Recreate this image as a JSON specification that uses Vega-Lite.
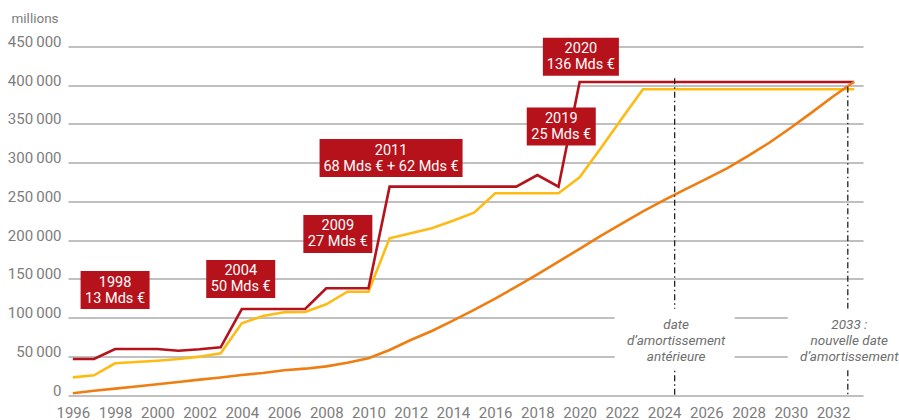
{
  "$schema": "https://vega.github.io/schema/vega-lite/v6.json",
  "width": 795,
  "height": 348.5,
  "autosize": {"type": "none"},
  "padding": {"left": 68, "top": 46.5, "right": 36, "bottom": 25},
  "background": "white",
  "config": {
    "view": {"stroke": null},
    "font": "Roboto"
  },
  "datasets": {
    "series": [
      {"year": 1996, "value": 46500, "s": "reprise"},
      {"year": 1997, "value": 46500, "s": "reprise"},
      {"year": 1998, "value": 59400, "s": "reprise"},
      {"year": 1999, "value": 59400, "s": "reprise"},
      {"year": 2000, "value": 59400, "s": "reprise"},
      {"year": 2001, "value": 57200, "s": "reprise"},
      {"year": 2002, "value": 59000, "s": "reprise"},
      {"year": 2003, "value": 61600, "s": "reprise"},
      {"year": 2004, "value": 111000, "s": "reprise"},
      {"year": 2005, "value": 111000, "s": "reprise"},
      {"year": 2006, "value": 111000, "s": "reprise"},
      {"year": 2007, "value": 111000, "s": "reprise"},
      {"year": 2008, "value": 137800, "s": "reprise"},
      {"year": 2009, "value": 137800, "s": "reprise"},
      {"year": 2010, "value": 137800, "s": "reprise"},
      {"year": 2011, "value": 269000, "s": "reprise"},
      {"year": 2012, "value": 269000, "s": "reprise"},
      {"year": 2013, "value": 269000, "s": "reprise"},
      {"year": 2014, "value": 269000, "s": "reprise"},
      {"year": 2015, "value": 269000, "s": "reprise"},
      {"year": 2016, "value": 269000, "s": "reprise"},
      {"year": 2017, "value": 269000, "s": "reprise"},
      {"year": 2018, "value": 284000, "s": "reprise"},
      {"year": 2019, "value": 269000, "s": "reprise"},
      {"year": 2020, "value": 404200, "s": "reprise"},
      {"year": 2021, "value": 404200, "s": "reprise"},
      {"year": 2022, "value": 404200, "s": "reprise"},
      {"year": 2023, "value": 404200, "s": "reprise"},
      {"year": 2024, "value": 404200, "s": "reprise"},
      {"year": 2025, "value": 404200, "s": "reprise"},
      {"year": 2026, "value": 404200, "s": "reprise"},
      {"year": 2027, "value": 404200, "s": "reprise"},
      {"year": 2028, "value": 404200, "s": "reprise"},
      {"year": 2029, "value": 404200, "s": "reprise"},
      {"year": 2030, "value": 404200, "s": "reprise"},
      {"year": 2031, "value": 404200, "s": "reprise"},
      {"year": 2032, "value": 404200, "s": "reprise"},
      {"year": 2033, "value": 404200, "s": "reprise"},
      {"year": 1996, "value": 22800, "s": "ressources"},
      {"year": 1997, "value": 25400, "s": "ressources"},
      {"year": 1998, "value": 40900, "s": "ressources"},
      {"year": 1999, "value": 42600, "s": "ressources"},
      {"year": 2000, "value": 44300, "s": "ressources"},
      {"year": 2001, "value": 46500, "s": "ressources"},
      {"year": 2002, "value": 49500, "s": "ressources"},
      {"year": 2003, "value": 53800, "s": "ressources"},
      {"year": 2004, "value": 92600, "s": "ressources"},
      {"year": 2005, "value": 102000, "s": "ressources"},
      {"year": 2006, "value": 106800, "s": "ressources"},
      {"year": 2007, "value": 107200, "s": "ressources"},
      {"year": 2008, "value": 117100, "s": "ressources"},
      {"year": 2009, "value": 133400, "s": "ressources"},
      {"year": 2010, "value": 133400, "s": "ressources"},
      {"year": 2011, "value": 202300, "s": "ressources"},
      {"year": 2012, "value": 208800, "s": "ressources"},
      {"year": 2013, "value": 215200, "s": "ressources"},
      {"year": 2014, "value": 225100, "s": "ressources"},
      {"year": 2015, "value": 235400, "s": "ressources"},
      {"year": 2016, "value": 260500, "s": "ressources"},
      {"year": 2017, "value": 260500, "s": "ressources"},
      {"year": 2018, "value": 260500, "s": "ressources"},
      {"year": 2019, "value": 260500, "s": "ressources"},
      {"year": 2020, "value": 281100, "s": "ressources"},
      {"year": 2021, "value": 318700, "s": "ressources"},
      {"year": 2022, "value": 356900, "s": "ressources"},
      {"year": 2023, "value": 394800, "s": "ressources"},
      {"year": 2024, "value": 394800, "s": "ressources"},
      {"year": 2025, "value": 394800, "s": "ressources"},
      {"year": 2026, "value": 394800, "s": "ressources"},
      {"year": 2027, "value": 394800, "s": "ressources"},
      {"year": 2028, "value": 394800, "s": "ressources"},
      {"year": 2029, "value": 394800, "s": "ressources"},
      {"year": 2030, "value": 394800, "s": "ressources"},
      {"year": 2031, "value": 394800, "s": "ressources"},
      {"year": 2032, "value": 394800, "s": "ressources"},
      {"year": 2033, "value": 394800, "s": "ressources"},
      {"year": 1996, "value": 2200, "s": "amortie"},
      {"year": 1997, "value": 5500, "s": "amortie"},
      {"year": 1998, "value": 8200, "s": "amortie"},
      {"year": 1999, "value": 11000, "s": "amortie"},
      {"year": 2000, "value": 13800, "s": "amortie"},
      {"year": 2001, "value": 16800, "s": "amortie"},
      {"year": 2002, "value": 19800, "s": "amortie"},
      {"year": 2003, "value": 22600, "s": "amortie"},
      {"year": 2004, "value": 25800, "s": "amortie"},
      {"year": 2005, "value": 28500, "s": "amortie"},
      {"year": 2006, "value": 32000, "s": "amortie"},
      {"year": 2007, "value": 34000, "s": "amortie"},
      {"year": 2008, "value": 37000, "s": "amortie"},
      {"year": 2009, "value": 41700, "s": "amortie"},
      {"year": 2010, "value": 47400, "s": "amortie"},
      {"year": 2011, "value": 58100, "s": "amortie"},
      {"year": 2012, "value": 71000, "s": "amortie"},
      {"year": 2013, "value": 82600, "s": "amortie"},
      {"year": 2014, "value": 96000, "s": "amortie"},
      {"year": 2015, "value": 109800, "s": "amortie"},
      {"year": 2016, "value": 124400, "s": "amortie"},
      {"year": 2017, "value": 139900, "s": "amortie"},
      {"year": 2018, "value": 155800, "s": "amortie"},
      {"year": 2019, "value": 172200, "s": "amortie"},
      {"year": 2020, "value": 188800, "s": "amortie"},
      {"year": 2021, "value": 205600, "s": "amortie"},
      {"year": 2022, "value": 221300, "s": "amortie"},
      {"year": 2023, "value": 237000, "s": "amortie"},
      {"year": 2024, "value": 251500, "s": "amortie"},
      {"year": 2025, "value": 265400, "s": "amortie"},
      {"year": 2026, "value": 279000, "s": "amortie"},
      {"year": 2027, "value": 293000, "s": "amortie"},
      {"year": 2028, "value": 309000, "s": "amortie"},
      {"year": 2029, "value": 326000, "s": "amortie"},
      {"year": 2030, "value": 345000, "s": "amortie"},
      {"year": 2031, "value": 365000, "s": "amortie"},
      {"year": 2032, "value": 385500, "s": "amortie"},
      {"year": 2033, "value": 404500, "s": "amortie"}
    ],
    "boxes": [
      {"year": 1998, "value": 135500, "text": "1998\n13 Mds €", "kind": "std"},
      {"year": 2003.95, "value": 149800, "text": "2004\n50 Mds €", "kind": "std"},
      {"year": 2008.55, "value": 208000, "text": "2009\n27 Mds €", "kind": "std"},
      {"year": 2011.07, "value": 306000, "text": "2011\n68 Mds € + 62 Mds €", "kind": "wide"},
      {"year": 2019.13, "value": 346700, "text": "2019\n25 Mds €", "kind": "std"},
      {"year": 2020.06, "value": 436900, "text": "2020\n136 Mds €", "kind": "mid"}
    ],
    "dates": [
      {"year": 2024.5, "top": 409000, "mid": 72000, "text": "date\nd’amortissement\nantérieure"},
      {"year": 2032.7, "top": 398000, "mid": 72000, "text": "2033 :\nnouvelle date\nd’amortissement"}
    ]
  },
  "encoding": {
    "x": {
      "field": "year", "type": "quantitative",
      "scale": {"domain": [1995.77, 2033.42], "nice": false, "zero": false},
      "axis": {
        "values": [1996, 1998, 2000, 2002, 2004, 2006, 2008, 2010, 2012, 2014, 2016, 2018, 2020, 2022, 2024, 2026, 2028, 2030, 2032],
        "format": "d", "title": null, "grid": false, "ticks": false, "tickSize": 0, "domain": false,
        "labelFontSize": 15, "labelColor": "#7d7d7d", "labelBaseline": "alphabetic",
        "labelPadding": 22, "labelFlush": false, "labelOverlap": false
      }
    },
    "y": {
      "field": "value", "type": "quantitative",
      "scale": {"domain": [0, 450000], "nice": false},
      "axis": {
        "values": [0, 50000, 100000, 150000, 200000, 250000, 300000, 350000, 400000, 450000],
        "labelExpr": "replace(format(datum.value, ','), ',', '\u2009')",
        "title": "millions", "titleAngle": 0, "titleAlign": "left", "titleBaseline": "alphabetic",
        "titleX": -57, "titleY": -24.5, "titleFontSize": 13.5, "titleFontWeight": "normal", "titleColor": "#7d7d7d",
        "grid": true, "gridColor": "#ababab", "gridWidth": 1.4,
        "ticks": false, "tickSize": 0, "domain": false,
        "labelFontSize": 15, "labelColor": "#7d7d7d", "labelBaseline": "alphabetic",
        "labelPadding": 7, "labelFlush": false, "labelOverlap": false
      }
    }
  },
  "layer": [
    {
      "data": {"name": "series"},
      "transform": [{"filter": "datum.s == 'ressources'"}],
      "mark": {"type": "line", "color": "#fdbb14", "strokeWidth": 2.6},
      "encoding": {}
    },
    {
      "data": {"name": "series"},
      "transform": [{"filter": "datum.s == 'reprise'"}],
      "mark": {"type": "line", "color": "#b5121b", "strokeWidth": 2.6},
      "encoding": {}
    },
    {
      "data": {"name": "series"},
      "transform": [{"filter": "datum.s == 'amortie'"}],
      "mark": {"type": "line", "color": "#ef7d12", "strokeWidth": 2.6},
      "encoding": {}
    },
    {
      "data": {"name": "dates"},
      "mark": {"type": "rule", "color": "#222222", "strokeWidth": 1.3, "strokeDash": [6, 3, 1.5, 3]},
      "encoding": {
        "y": {"field": "top", "type": "quantitative"},
        "y2": {"datum": 0}
      }
    },
    {
      "data": {"name": "dates"},
      "mark": {"type": "rect", "color": "white", "width": 120, "height": 61, "opacity": 1},
      "encoding": {
        "y": {"field": "mid", "type": "quantitative"}
      }
    },
    {
      "data": {"name": "dates"},
      "mark": {"type": "text", "lineBreak": "\n", "fontSize": 13.5, "fontStyle": "italic", "color": "#6e6e6e", "align": "center", "baseline": "middle", "lineHeight": 16, "dx": 1.5, "dy": -14},
      "encoding": {
        "y": {"field": "mid", "type": "quantitative"},
        "text": {"field": "text"}
      }
    },
    {
      "data": {"name": "boxes"},
      "transform": [{"filter": "datum.kind == 'std'"}],
      "mark": {"type": "rect", "color": "#b5121b", "width": 69, "height": 38},
      "encoding": {}
    },
    {
      "data": {"name": "boxes"},
      "transform": [{"filter": "datum.kind == 'wide'"}],
      "mark": {"type": "rect", "color": "#b5121b", "width": 143, "height": 38},
      "encoding": {}
    },
    {
      "data": {"name": "boxes"},
      "transform": [{"filter": "datum.kind == 'mid'"}],
      "mark": {"type": "rect", "color": "#b5121b", "width": 76, "height": 38},
      "encoding": {}
    },
    {
      "data": {"name": "boxes"},
      "mark": {"type": "text", "lineBreak": "\n", "fontSize": 14.5, "color": "white", "align": "center", "baseline": "middle", "lineHeight": 16, "dy": -7.5},
      "encoding": {
        "text": {"field": "text"}
      }
    }
  ]
}
